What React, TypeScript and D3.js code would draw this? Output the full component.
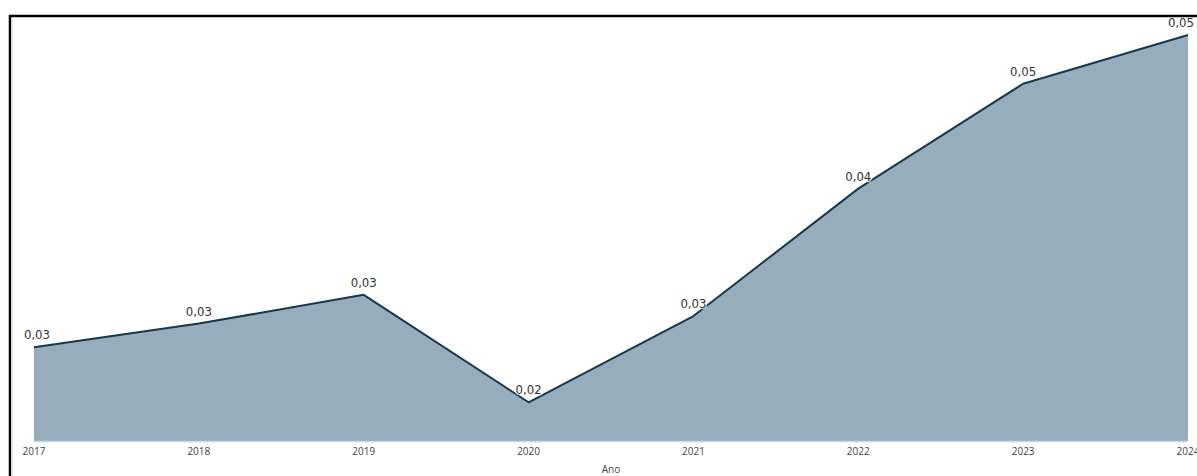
import React from "react";
import * as d3 from "d3";

const years = ["2017", "2018", "2019", "2020", "2021", "2022", "2023", "2024"];
const values = [0.0265, 0.0284, 0.0307, 0.0221, 0.029, 0.0392, 0.0476, 0.0515];
const xAxisTitle = "Ano";

const W = 1197;
const H = 476;

export default function App() {
  const x = d3.scalePoint<string>().domain(years).range([34, 1188]);
  const y = d3.scaleLinear().domain([0.019, 0.0515]).range([441, 35]);
  const data = years.map((yr, i) => ({ yr, v: values[i] }));

  const area = d3
    .area<{ yr: string; v: number }>()
    .x((d) => x(d.yr)!)
    .y0(y(0.019))
    .y1((d) => y(d.v));
  const line = d3
    .line<{ yr: string; v: number }>()
    .x((d) => x(d.yr)!)
    .y((d) => y(d.v));

  const fmt = (v: number) => d3.format(".2f")(v).replace(".", ",");
  const labelDx = (i: number) => (i === 0 ? 3 : i === years.length - 1 ? -7 : 0);

  return (
    <svg
      width={W}
      height={H}
      style={{ position: "absolute", left: 0, top: 0, background: "#fff" }}
    >
      <rect x={0} y={0} width={W} height={H} fill="#fff" />
      <path d={area(data)!} fill="#98adbc" />
      <line
        x1={x(years[0])}
        x2={x(years[years.length - 1])}
        y1={y(0.019) + 0.5}
        y2={y(0.019) + 0.5}
        stroke="#c9d7e1"
        strokeWidth={1.5}
      />
      <path d={line(data)!} fill="none" stroke="#14384f" strokeWidth={2} strokeLinejoin="round" />
      {data.map((d, i) => (
        <text
          key={"l" + d.yr}
          x={x(d.yr)! + labelDx(i)}
          y={y(d.v) - 8}
          textAnchor="middle"
          fontFamily="'DejaVu Sans Condensed', 'DejaVu Sans', sans-serif"
          fontSize={13}
          fill="#333"
          stroke="#fff"
          strokeWidth={2.5}
          strokeOpacity={0.7}
          paintOrder="stroke"
        >
          {fmt(d.v)}
        </text>
      ))}
      {years.map((yr) => (
        <text
          key={"t" + yr}
          x={x(yr)}
          y={455}
          textAnchor="middle"
          fontFamily="'Open Sans', sans-serif"
          fontSize={10}
          fill="#444"
        >
          {yr}
        </text>
      ))}
      <text
        x={(x(years[0])! + x(years[years.length - 1])!) / 2}
        y={473}
        textAnchor="middle"
        fontFamily="'Open Sans', sans-serif"
        fontSize={10}
        fill="#444"
      >
        {xAxisTitle}
      </text>
      <path d={`M10,${H + 5}V16H${W + 5}`} fill="none" stroke="#000" strokeWidth={2.5} />
      <line x1={12} x2={12} y1={18} y2={H} stroke="#ddd" strokeWidth={1.5} />
    </svg>
  );
}
